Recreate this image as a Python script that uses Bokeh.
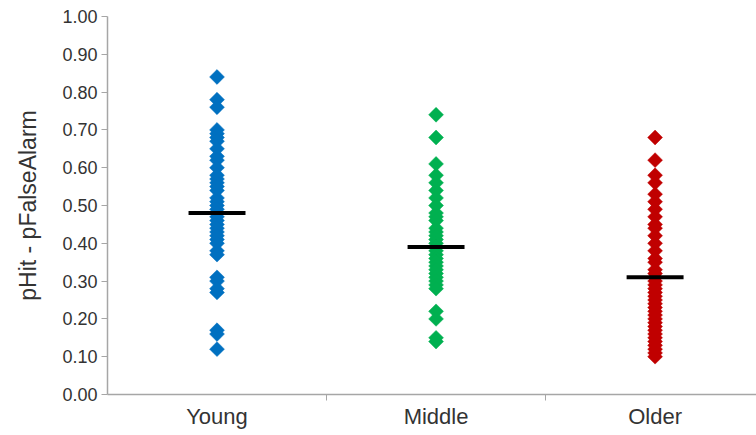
import math
from bokeh.plotting import figure
from bokeh.models import FixedTicker, NumeralTickFormatter, ColumnDataSource
from bokeh.embed import file_html
from bokeh.resources import INLINE

# ---- data ----
groups = ["Young", "Middle", "Older"]
colors = ["#0070C0", "#00B050", "#C00000"]

young = [0.84, 0.78, 0.76, 0.70, 0.69, 0.68, 0.67, 0.65, 0.63, 0.62, 0.60, 0.58,
         0.57, 0.56, 0.55, 0.54, 0.52, 0.51, 0.50, 0.49, 0.48, 0.47, 0.46, 0.45,
         0.44, 0.43, 0.42, 0.41, 0.40, 0.38, 0.37, 0.31, 0.30, 0.28, 0.27, 0.17,
         0.16, 0.12]
middle = [0.74, 0.68, 0.61, 0.58, 0.56, 0.54, 0.52, 0.50, 0.48, 0.47, 0.46, 0.44,
          0.43, 0.42, 0.41, 0.40, 0.39, 0.38, 0.37, 0.36, 0.35, 0.34, 0.33, 0.32,
          0.31, 0.30, 0.29, 0.28, 0.22, 0.20, 0.15, 0.14]
older = [0.68, 0.62, 0.58, 0.56, 0.53, 0.51, 0.49, 0.47, 0.45, 0.44, 0.42, 0.40,
         0.38, 0.36, 0.35, 0.33, 0.32, 0.31, 0.30, 0.29, 0.28, 0.27, 0.26, 0.25,
         0.24, 0.23, 0.22, 0.21, 0.20, 0.19, 0.18, 0.17, 0.16, 0.15, 0.14, 0.13,
         0.12, 0.11, 0.10]
means = [0.48, 0.39, 0.31]

y_ticks = [0.0, 0.1, 0.2, 0.3, 0.4, 0.5, 0.6, 0.7, 0.8, 0.9, 1.0]
y_label = "pHit - pFalseAlarm"

series = [young, middle, older]

FONT = "Liberation Sans"
TXT = "#333333"
AX = "#A6A6A6"

p = figure(width=756, height=435, output_backend="svg", toolbar_location=None,
           x_range=(0, 2.963), y_range=(0, 1.0),
           min_border_left=107, min_border_right=0, min_border_top=16,
           min_border_bottom=41)
p.outline_line_color = None
p.xgrid.visible = False
p.ygrid.visible = False

for i, vals in enumerate(series):
    src = ColumnDataSource(dict(x=[i + 0.5] * len(vals), y=vals))
    p.scatter("x", "y", source=src, marker="square", size=10.5, angle=math.pi / 4,
              fill_color=colors[i], line_color=colors[i], line_width=0.5)

centers = [i + 0.5 for i in range(len(groups))]
hw = 0.13
p.segment(x0=[c - hw for c in centers], x1=[c + hw for c in centers],
          y0=means, y1=means, line_color="black", line_width=4)

# x axis
p.xaxis.ticker = FixedTicker(ticks=centers, minor_ticks=list(range(1, len(groups))))
p.xaxis.major_label_overrides = {c: g for c, g in zip(centers, groups)}
p.xaxis.major_tick_line_color = None
p.xaxis.major_tick_out = 0
p.xaxis.major_tick_in = 0
p.xaxis.minor_tick_out = 6
p.xaxis.minor_tick_in = 0
p.xaxis.minor_tick_line_color = AX
p.xaxis.axis_line_color = AX
p.xaxis.axis_line_width = 1.5
p.xaxis.major_label_standoff = 3
p.xaxis.major_label_text_font = FONT
p.xaxis.major_label_text_font_size = "22px"
p.xaxis.major_label_text_color = TXT

# y axis
p.yaxis.ticker = FixedTicker(ticks=y_ticks, minor_ticks=[])
p.yaxis.formatter = NumeralTickFormatter(format="0.00")
p.yaxis.axis_line_color = AX
p.yaxis.axis_line_width = 1.5
p.yaxis.major_tick_line_color = AX
p.yaxis.major_tick_out = 6
p.yaxis.major_tick_in = 0
p.yaxis.minor_tick_line_color = None
p.yaxis.major_label_standoff = 4
p.yaxis.major_label_text_font = FONT
p.yaxis.major_label_text_font_size = "18px"
p.yaxis.major_label_text_color = TXT
p.yaxis.axis_label = y_label
p.yaxis.axis_label_text_font = FONT
p.yaxis.axis_label_text_font_size = "23px"
p.yaxis.axis_label_text_font_style = "normal"
p.yaxis.axis_label_text_color = TXT
p.yaxis.axis_label_standoff = 18

open("out.html", "w").write(file_html(p, INLINE))
